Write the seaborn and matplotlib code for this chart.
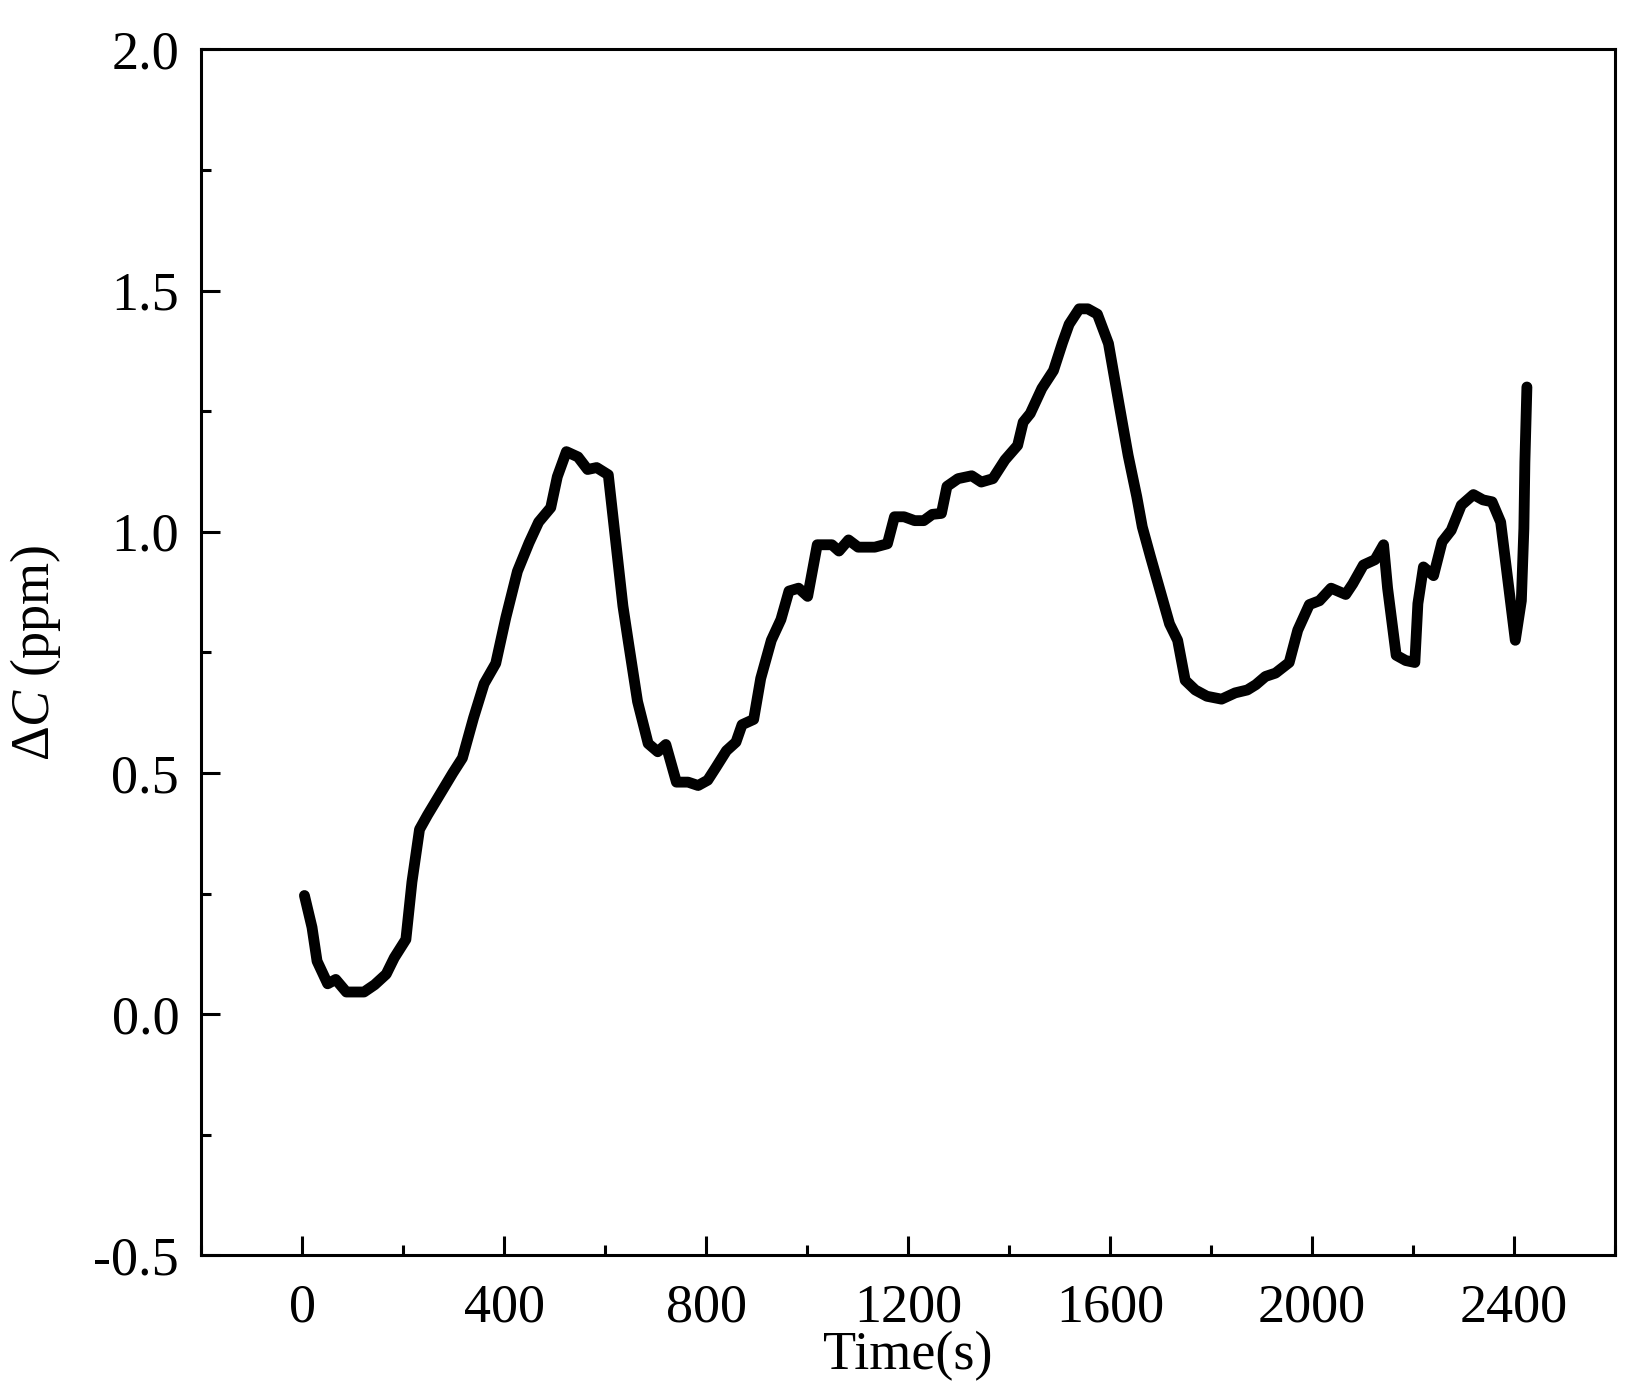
import numpy as np
import pandas as pd
import matplotlib
matplotlib.use("Agg")
import matplotlib.pyplot as plt
from matplotlib.ticker import MultipleLocator
import seaborn as sns

# time (s) and concentration change (ppm)
time_s = [4, 19, 29, 50, 66, 87, 122, 143, 166, 182, 205, 217, 232, 248, 298, 317,
          339, 360, 383, 403, 426, 449, 468, 492, 505, 523, 546, 565, 583, 606, 619,
          635, 646, 664, 685, 704, 720, 741, 764, 784, 803, 819, 840, 859, 871, 894,
          908, 929, 948, 964, 983, 1001, 1020, 1049, 1063, 1082, 1101, 1134, 1159,
          1173, 1192, 1213, 1231, 1248, 1266, 1277, 1299, 1326, 1345, 1368, 1392,
          1417, 1428, 1442, 1465, 1488, 1506, 1519, 1539, 1556, 1575, 1597, 1618,
          1636, 1653, 1664, 1680, 1707, 1718, 1734, 1749, 1769, 1792, 1821, 1848,
          1872, 1889, 1908, 1928, 1955, 1972, 1995, 2015, 2038, 2067, 2081, 2102,
          2125, 2142, 2150, 2167, 2186, 2204, 2210, 2221, 2241, 2258, 2276, 2296,
          2320, 2339, 2357, 2374, 2392, 2403, 2415, 2420, 2422, 2426]
delta_c = [0.246, 0.18, 0.11, 0.063, 0.072, 0.046, 0.046, 0.061, 0.083, 0.117, 0.155,
           0.274, 0.383, 0.413, 0.50, 0.531, 0.614, 0.685, 0.727, 0.822, 0.918, 0.977,
           1.02, 1.05, 1.114, 1.166, 1.155, 1.129, 1.133, 1.118, 0.996, 0.846, 0.77,
           0.648, 0.561, 0.544, 0.559, 0.481, 0.481, 0.474, 0.485, 0.511, 0.546, 0.564,
           0.60, 0.611, 0.696, 0.775, 0.818, 0.877, 0.883, 0.866, 0.973, 0.973, 0.96,
           0.983, 0.968, 0.968, 0.975, 1.031, 1.031, 1.023, 1.023, 1.036, 1.038, 1.094,
           1.11, 1.116, 1.103, 1.11, 1.149, 1.179, 1.227, 1.245, 1.297, 1.334, 1.392,
           1.43, 1.462, 1.462, 1.451, 1.39, 1.264, 1.158, 1.073, 1.01, 0.949, 0.849,
           0.809, 0.775, 0.692, 0.672, 0.659, 0.653, 0.666, 0.672, 0.683, 0.70, 0.707,
           0.729, 0.796, 0.849, 0.857, 0.883, 0.870, 0.892, 0.931, 0.942, 0.973, 0.883,
           0.744, 0.733, 0.729, 0.851, 0.927, 0.909, 0.979, 1.003, 1.055, 1.077, 1.066,
           1.062, 1.02, 0.868, 0.775, 0.857, 1.007, 1.144, 1.30]

x_ticks = [0, 400, 800, 1200, 1600, 2000, 2400]
y_ticks = [-0.5, 0.0, 0.5, 1.0, 1.5, 2.0]

df = pd.DataFrame({"Time": time_s, "dC": delta_c})

sns.set_style("ticks")
plt.rcParams["font.family"] = ["Liberation Serif", "DejaVu Serif"]
plt.rcParams["mathtext.fontset"] = "custom"
plt.rcParams["mathtext.it"] = "Liberation Serif:italic"
plt.rcParams["mathtext.rm"] = "Liberation Serif"
plt.rcParams["axes.unicode_minus"] = False
plt.rcParams["axes.labelcolor"] = "black"
plt.rcParams["text.color"] = "black"

fig = plt.figure(figsize=(16.46, 13.84), dpi=100)
ax = fig.add_axes([0.1224, 0.0929, 0.981 - 0.1224, 0.9644 - 0.0929])

sns.lineplot(data=df, x="Time", y="dC", ax=ax, color="black", linewidth=7.8,
             solid_joinstyle="round", solid_capstyle="round", sort=False)

ax.set_xlim(-200, 2600)
ax.set_ylim(-0.5, 2.0)
ax.set_xticks(x_ticks)
ax.set_yticks(y_ticks)
ax.set_yticklabels([f"{v:.1f}" for v in y_ticks])
ax.xaxis.set_minor_locator(MultipleLocator(200))
ax.yaxis.set_minor_locator(MultipleLocator(0.25))

for s in ax.spines.values():
    s.set_linewidth(2.2)
    s.set_color("black")

ax.tick_params(which="major", direction="in", length=14, width=2.2,
               labelsize=39, colors="black")
ax.tick_params(which="minor", direction="in", length=7, width=2.2, colors="black")
ax.tick_params(axis="x", which="major", pad=20)
ax.tick_params(axis="y", which="major", pad=16)

ax.set_xlabel("Time(s)", fontsize=39, labelpad=-2, color="black")
ax.set_ylabel(r"$\Delta$$\mathit{C}$ (ppm)", fontsize=39, labelpad=22, color="black")

fig.savefig("out.png", dpi=100, facecolor="white")
